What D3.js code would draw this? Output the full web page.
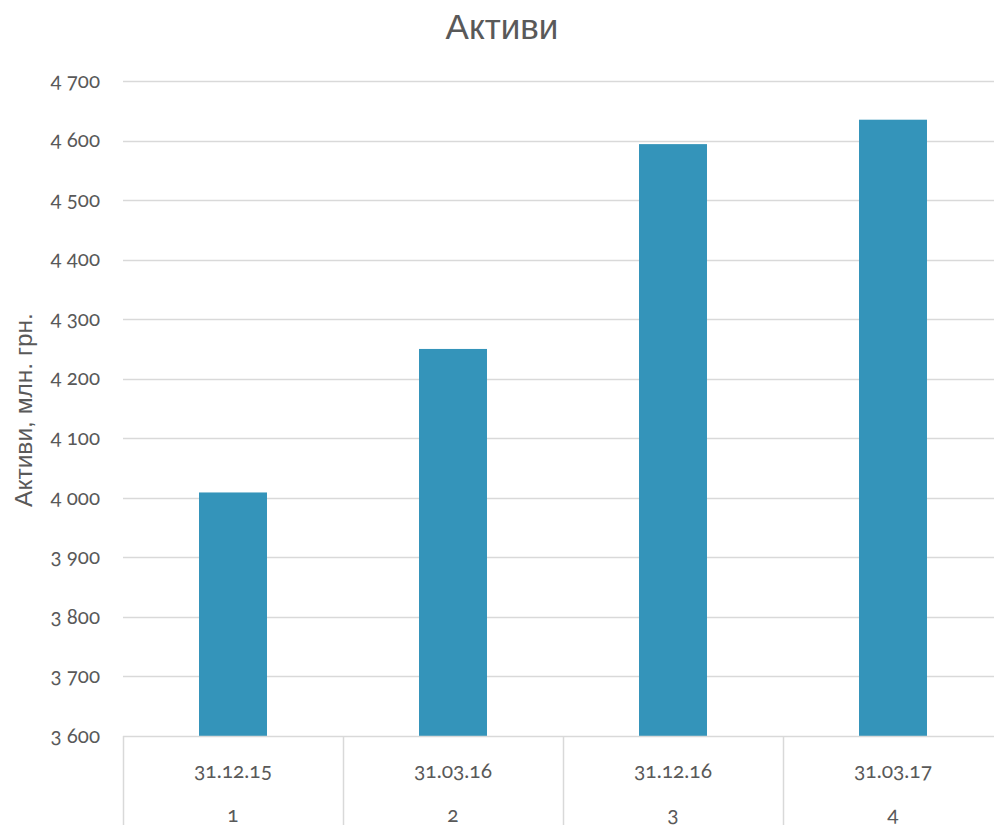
<!DOCTYPE html>
<html><head><meta charset="utf-8">
<script src="https://cdn.jsdelivr.net/npm/d3@7/dist/d3.min.js"></script>
<style>
html,body{margin:0;padding:0;background:#fff;overflow:hidden}
svg{display:block}
.lbl{font-family:Lato,"Open Sans",sans-serif;font-feature-settings:"onum" 1;font-variant-numeric:oldstyle-nums;fill:#595959}
</style></head><body>
<script>
const categories = ["31.12.15","31.03.16","31.12.16","31.03.17"];
const indices = ["1","2","3","4"];
const values = [4009, 4250, 4594, 4635];
const yTicks = [3600,3700,3800,3900,4000,4100,4200,4300,4400,4500,4600,4700];
const title = "Активи";
const yTitle = "Активи, млн. грн.";

const W=994,H=825;
const svg=d3.select("body").append("svg").attr("width",W).attr("height",H);
const x=d3.scaleBand().domain(categories).range([123,1003]).paddingInner(0.691).paddingOuter(0.3455);
const y=d3.scaleLinear().domain([3600,4700]).range([736,81]);
const fmt=v=>d3.format(",")(v).replace(",","\u00a0");

// gridlines
svg.append("g").selectAll("line").data(yTicks.slice(1)).join("line")
  .attr("x1",123).attr("x2",1003).attr("y1",d=>Math.round(y(d))+0.5).attr("y2",d=>Math.round(y(d))+0.5)
  .attr("stroke","#d9d9d9").attr("stroke-width",1.5);

// bars
svg.append("g").selectAll("rect").data(values).join("rect")
  .attr("x",(d,i)=>x(categories[i])).attr("width",x.bandwidth())
  .attr("y",d=>y(d)).attr("height",d=>y(3600)-y(d))
  .attr("fill","#3494ba");

// axis line + dividers
svg.append("line").attr("x1",123).attr("x2",1003).attr("y1",736.5).attr("y2",736.5).attr("stroke","#d9d9d9").attr("stroke-width",1.5);
const step=x.step();
const bounds=d3.range(categories.length+1).map(i=>123+i*step);
svg.append("g").selectAll("line").data(bounds).join("line")
  .attr("x1",d=>d+0.5).attr("x2",d=>d+0.5).attr("y1",736).attr("y2",H)
  .attr("stroke","#d9d9d9").attr("stroke-width",1.5);

// y tick labels
svg.append("g").selectAll("text").data(yTicks).join("text").attr("class","lbl")
  .attr("x",100).attr("y",d=>y(d)).attr("dy","0.33em").attr("text-anchor","end")
  .attr("font-size",20.5).text(d=>fmt(d));

// category labels
svg.append("g").selectAll("text").data(categories).join("text").attr("class","lbl")
  .attr("x",d=>x(d)+x.bandwidth()/2).attr("y",771).attr("dy","0.33em").attr("text-anchor","middle")
  .attr("font-size",21).text(d=>d);
svg.append("g").selectAll("text").data(indices).join("text").attr("class","lbl")
  .attr("x",(d,i)=>x(categories[i])+x.bandwidth()/2).attr("y",815).attr("dy","0.33em").attr("text-anchor","middle")
  .attr("font-size",21).text(d=>d);

// titles
svg.append("text").attr("x",502).attr("y",27).attr("dy","0.35em").attr("text-anchor","middle")
  .attr("font-family","Liberation Sans, Arial, sans-serif").attr("font-size",35).attr("fill","#595959").text(title);
svg.append("text").attr("transform","translate(23,410) rotate(-90)").attr("dy","0.35em").attr("text-anchor","middle")
  .attr("font-family","Liberation Sans, Arial, sans-serif").attr("font-size",24.5).attr("fill","#595959").text(yTitle);
</script>
</body></html>
